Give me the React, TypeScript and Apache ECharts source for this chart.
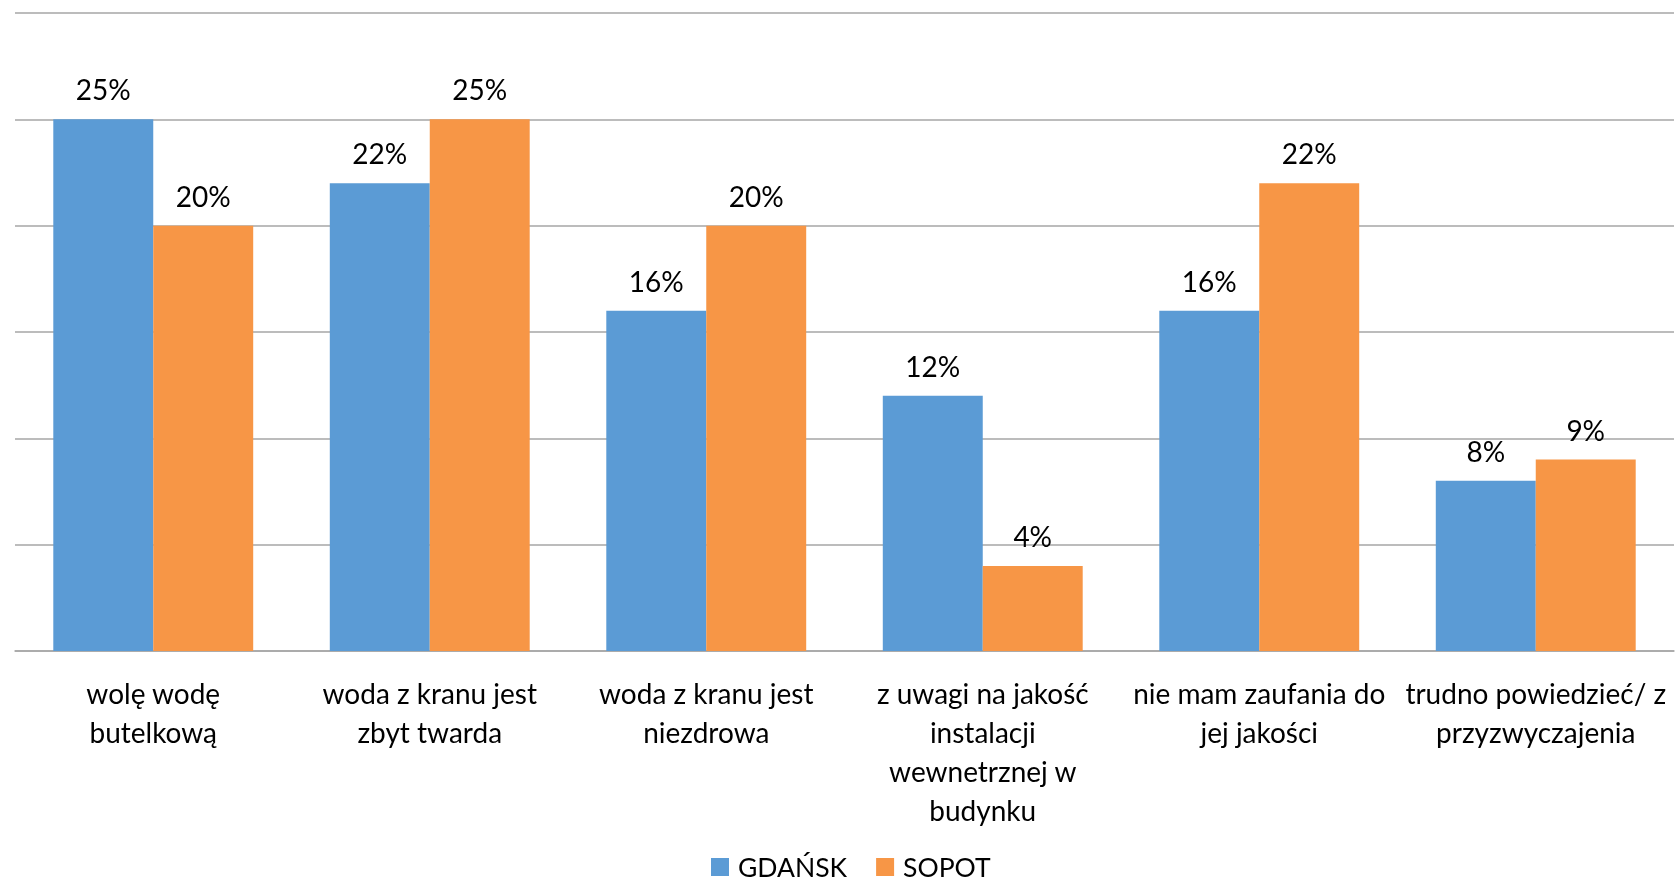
import React, { useEffect, useRef } from "react";
import * as echarts from "echarts";

const categories = [
  "wolę wodę\nbutelkową",
  "woda z kranu jest\nzbyt twarda",
  "woda z kranu jest\nniezdrowa",
  "z uwagi na jakość\ninstalacji\nwewnetrznej w\nbudynku",
  "nie mam zaufania do\njej jakości",
  "trudno powiedzieć/ z\nprzyzwyczajenia",
];
const seriesNames = ["GDAŃSK", "SOPOT"];
const gdansk = [25, 22, 16, 12, 16, 8];
const sopot = [20, 25, 20, 4, 22, 9];
const FONT = "Lato, 'Open Sans', sans-serif";

export default function App() {
  const ref = useRef<HTMLDivElement>(null);
  useEffect(() => {
    if (!ref.current) return;
    const chart = echarts.init(ref.current, null, { renderer: "svg" });
    const label = {
      show: true,
      position: "top",
      distance: 16,
      formatter: "{c}%",
      color: "#000",
      fontSize: 28,
      fontFamily: FONT,
    };
    chart.setOption({
      animation: false,
      textStyle: { fontFamily: FONT },
      grid: { left: 15, right: 5, top: 13, bottom: 235, containLabel: false },
      legend: {
        data: seriesNames,
        top: 853,
        left: 711,
        padding: 0,
        itemWidth: 18,
        itemHeight: 18,
        itemGap: 29,
        icon: "rect",
        textStyle: {
          fontSize: 26.5,
          lineHeight: 28,
          color: "#000",
          fontFamily: FONT,
          padding: [0, 0, 0, 4],
        },
      },
      xAxis: {
        type: "category",
        data: categories,
        axisLine: { lineStyle: { color: "#A6A6A6", width: 1.5 } },
        axisTick: { show: false },
        axisLabel: {
          interval: 0,
          color: "#000",
          fontSize: 28,
          lineHeight: 39,
          margin: 22,
          fontFamily: FONT,
        },
      },
      yAxis: {
        type: "value",
        min: 0,
        max: 30,
        interval: 5,
        axisLabel: { show: false },
        axisLine: { show: false },
        axisTick: { show: false },
        splitLine: { lineStyle: { color: "#A6A6A6", width: 1.5 } },
      },
      series: [
        {
          name: seriesNames[0],
          type: "bar",
          data: gdansk,
          barGap: "0%",
          barCategoryGap: "27.7%",
          itemStyle: { color: "#5B9BD5" },
          label,
        },
        {
          name: seriesNames[1],
          type: "bar",
          data: sopot,
          itemStyle: { color: "#F79646" },
          label,
        },
      ],
    });
    return () => chart.dispose();
  }, []);
  return (
    <div
      ref={ref}
      style={{ position: "fixed", left: 0, top: 0, width: 1679, height: 886 }}
    />
  );
}
